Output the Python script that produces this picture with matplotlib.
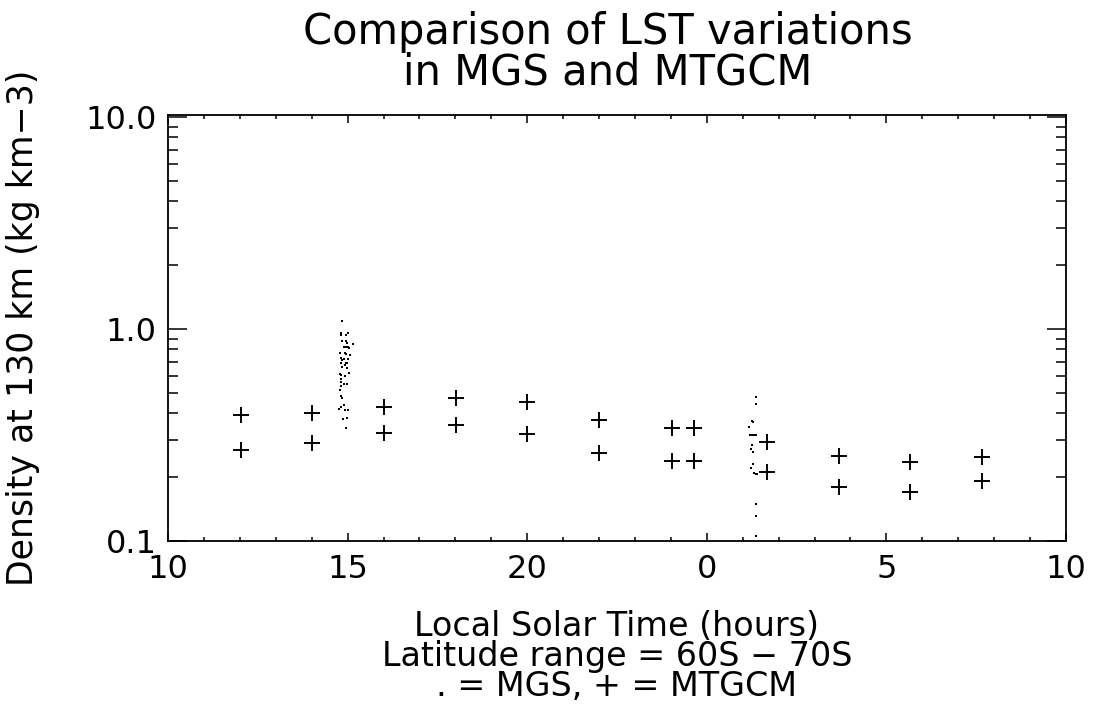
import matplotlib
matplotlib.use("Agg")
import matplotlib.pyplot as plt
from matplotlib.ticker import MultipleLocator, FixedLocator, FixedFormatter, FuncFormatter, LogLocator, NullFormatter

# x axis tick positions and the labels printed under them
x_ticks = [10, 15, 20, 25, 30, 35]
x_labels = ["10", "15", "20", "0", "5", "10"]

# MTGCM model values (upper and lower pair at each local time)
mtgcm_lst = [12.02, 14.01, 16.01, 18.02, 20.00, 22.00, 24.02, 24.64, 26.67, 28.67, 30.66, 32.66]
mtgcm_hi = [0.393, 0.403, 0.429, 0.471, 0.454, 0.373, 0.340, 0.340, 0.293, 0.252, 0.237, 0.249]
mtgcm_lo = [0.269, 0.289, 0.324, 0.353, 0.320, 0.261, 0.239, 0.239, 0.212, 0.179, 0.170, 0.192]

# MGS observations
mgs_lst = [14.85, 14.81, 14.81, 14.95, 15.00, 14.85, 14.95, 14.98, 15.16, 14.90,
           14.95, 15.00, 15.05, 14.78, 14.93, 14.96, 15.08, 14.81, 14.85, 14.91,
           15.02, 14.81, 14.95, 14.98, 14.93, 14.85, 14.98, 14.78, 14.83, 14.93,
           15.04, 14.81, 14.81, 14.90, 14.99, 14.81, 14.79, 14.81, 14.85, 14.89,
           14.83, 14.77, 14.93, 15.02, 14.87, 14.99, 14.95,
           26.36, 26.36, 26.27, 26.30, 26.18, 26.21, 26.26, 26.31, 26.38, 26.27,
           26.22, 26.30, 26.30, 26.23, 26.31, 26.36, 26.40, 26.36, 26.36, 26.36]
mgs_rho = [1.09, 0.954, 0.934, 0.937, 0.954, 0.878, 0.878, 0.856, 0.847, 0.820,
           0.820, 0.820, 0.816, 0.768, 0.768, 0.760, 0.754, 0.732, 0.714, 0.719,
           0.719, 0.694, 0.694, 0.689, 0.676, 0.664, 0.653, 0.611, 0.607, 0.602,
           0.618, 0.579, 0.564, 0.550, 0.550, 0.538, 0.516, 0.483, 0.471, 0.438,
           0.430, 0.418, 0.415, 0.415, 0.375, 0.379, 0.342,
           0.476, 0.441, 0.368, 0.363, 0.344, 0.316, 0.316, 0.316, 0.316, 0.284,
           0.271, 0.262, 0.231, 0.220, 0.209, 0.206, 0.207, 0.149, 0.131, 0.106]

plt.rcParams['font.family'] = ['DejaVu Sans']

fig = plt.figure(figsize=(10.93, 7.25), dpi=100)
ax = fig.add_axes([168 / 1093, 1 - 541 / 725, (1066 - 168) / 1093, (541 - 115) / 725])

ax.plot(mgs_lst, mgs_rho, linestyle="none", marker="s", markersize=1.5, color="black", markeredgewidth=0)
ax.plot(mtgcm_lst, mtgcm_hi, linestyle="none", marker="+", markersize=12, markeredgewidth=1.4, color="black")
ax.plot(mtgcm_lst, mtgcm_lo, linestyle="none", marker="+", markersize=12, markeredgewidth=1.4, color="black")

ax.set_yscale("log")
ax.set_xlim(10, 35)
ax.set_ylim(0.1, 10.2)

ax.xaxis.set_major_locator(FixedLocator(x_ticks))
ax.xaxis.set_major_formatter(FixedFormatter(x_labels))
ax.xaxis.set_minor_locator(MultipleLocator(1))
ax.yaxis.set_major_locator(LogLocator(base=10))
ax.yaxis.set_minor_locator(LogLocator(base=10, subs=range(2, 10)))
ax.yaxis.set_major_formatter(FuncFormatter(lambda v, p: "%.1f" % v))
ax.yaxis.set_minor_formatter(NullFormatter())

ax.tick_params(axis="both", which="both", direction="in", top=True, right=True, width=1.1, labelsize=23)
ax.tick_params(axis="x", which="major", length=5.5, pad=9)
ax.tick_params(axis="x", which="minor", length=3)
ax.tick_params(axis="y", which="major", length=14, pad=8)
ax.tick_params(axis="y", which="minor", length=7)
for s in ax.spines.values():
    s.set_linewidth(1.3)

ax.set_title("Comparison of LST variations\nin MGS and MTGCM", fontsize=30, linespacing=0.95, pad=22, x=0.49)
ax.set_xlabel("Local Solar Time (hours)\nLatitude range = 60S \u2212 70S\n. = MGS, + = MTGCM",
              fontsize=24, linespacing=0.9, labelpad=18)
ax.set_ylabel("Density at 130 km (kg km\u22123)", fontsize=25)
ax.yaxis.set_label_coords(-0.142, 0.5)

fig.savefig("out.png", dpi=100)
